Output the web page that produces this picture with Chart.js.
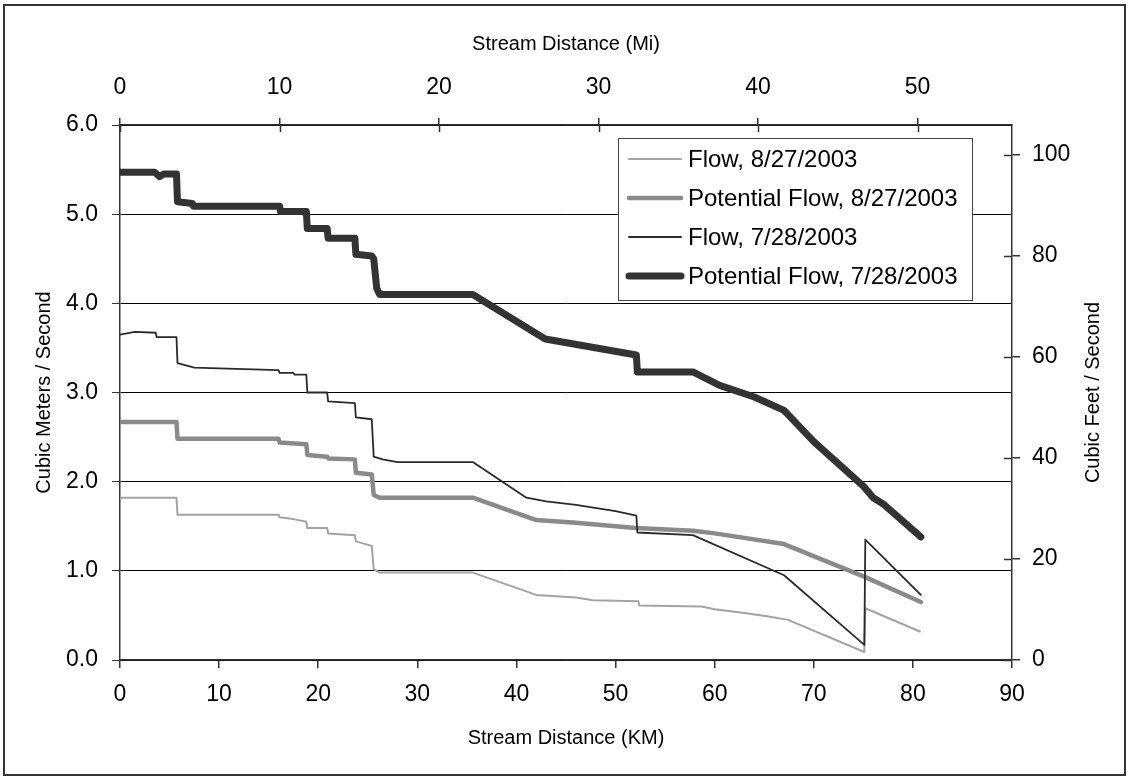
<!DOCTYPE html>
<html>
<head>
<meta charset="utf-8">
<script src="https://cdn.jsdelivr.net/npm/chart.js@4.4.0/dist/chart.umd.min.js"></script>
<style>
  html,body{margin:0;padding:0;background:#fff;}
  #contenedor{width:1130px;height:780px;position:relative;}
</style>
</head>
<body>
<div id="contenedor"><canvas id="myChart"></canvas></div>
<script>
/*------------------------ datos: km y m3/s --------------------------*/
const km_flujo0827 = [0, 5.7, 5.8, 16.0, 16.1, 17.5, 18.8, 18.9, 20.9, 21.0, 23.7, 23.8, 25.4, 25.6, 26.2, 35.6, 42.0, 46.0, 47.7, 52.3, 52.4, 58.7, 60.0, 62.8, 65.3, 67.4, 75.1, 75.2, 80.7];
const q_flujo0827  = [1.82, 1.82, 1.63, 1.63, 1.60, 1.58, 1.55, 1.48, 1.48, 1.42, 1.40, 1.33, 1.28, 1.02, 0.98, 0.98, 0.73, 0.70, 0.67, 0.66, 0.61, 0.60, 0.57, 0.53, 0.49, 0.45, 0.09, 0.58, 0.32];

const km_pot0827 = [0, 5.7, 5.8, 16.0, 16.1, 18.8, 18.9, 20.9, 21.0, 23.7, 23.8, 25.4, 25.6, 26.2, 35.6, 42.0, 46.0, 52.0, 57.8, 60.0, 67.0, 75.2, 80.8];
const q_pot0827  = [2.67, 2.67, 2.48, 2.48, 2.44, 2.42, 2.30, 2.28, 2.26, 2.25, 2.10, 2.08, 1.85, 1.82, 1.82, 1.57, 1.54, 1.48, 1.45, 1.42, 1.30, 0.93, 0.65];

const km_flujo0728 = [0, 1.5, 3.6, 3.7, 5.7, 5.8, 7.5, 10.0, 16.0, 16.1, 17.5, 17.6, 18.8, 18.9, 20.9, 21.0, 23.7, 23.8, 25.4, 25.6, 26.5, 28.0, 35.6, 41.0, 43.0, 46.0, 50.0, 52.1, 52.2, 57.8, 67.0, 75.1, 75.2, 80.8];
const q_flujo0728  = [3.65, 3.68, 3.67, 3.62, 3.62, 3.33, 3.28, 3.27, 3.25, 3.22, 3.22, 3.20, 3.20, 3.00, 3.00, 2.90, 2.88, 2.72, 2.70, 2.28, 2.25, 2.22, 2.22, 1.82, 1.78, 1.74, 1.67, 1.62, 1.43, 1.40, 0.95, 0.17, 1.35, 0.73];

const km_pot0728 = [0, 3.5, 4.0, 4.4, 5.7, 5.8, 7.3, 7.4, 16.1, 16.2, 18.8, 18.9, 20.9, 21.0, 23.7, 23.8, 25.4, 25.6, 25.9, 26.2, 35.6, 42.9, 52.1, 52.2, 57.8, 60.5, 64.0, 67.0, 70.0, 75.0, 76.0, 77.0, 80.8];
const q_pot0728  = [5.47, 5.47, 5.42, 5.45, 5.45, 5.14, 5.12, 5.09, 5.09, 5.03, 5.03, 4.84, 4.84, 4.73, 4.73, 4.55, 4.53, 4.50, 4.17, 4.10, 4.10, 3.60, 3.42, 3.23, 3.23, 3.08, 2.95, 2.80, 2.45, 1.95, 1.82, 1.75, 1.38];

const etiquetas = ['Flow, 8/27/2003', 'Potential Flow, 8/27/2003', 'Flow, 7/28/2003', 'Potential Flow, 7/28/2003'];

// marcas de los ejes secundarios
const marcas_mi  = [0, 10, 20, 30, 40, 50];
const marcas_cfs = [0, 20, 40, 60, 80, 100];

const KM_MAX = 90;
const MI_MAX = KM_MAX / 1.609344;
const CFS_MAX = 105.94;

const fuente = '"Liberation Sans", Arial, sans-serif';

let puntos = (xs, ys) => xs.map((x, i) => ({x: x, y: ys[i]}));

/*------------------------ leyenda dentro del area --------------------------*/
const leyenda = {
   id: 'leyenda',
   afterDraw(chart){
      const ctx = chart.ctx;
      ctx.save();
      ctx.fillStyle = '#fff';
      ctx.fillRect(618, 138, 354, 162);
      ctx.strokeStyle = '#444';
      ctx.lineWidth = 1;
      ctx.strokeRect(618.5, 138.5, 354, 162);
      ctx.font = '24px ' + fuente;
      ctx.textBaseline = 'middle';
      chart.data.datasets.forEach((ds, i) => {
         let y = 159 + i * 39;
         ctx.strokeStyle = ds.borderColor;
         ctx.lineWidth = ds.borderWidth;
         ctx.lineCap = 'round';
         ctx.beginPath();
         ctx.moveTo(629, y);
         ctx.lineTo(681, y);
         ctx.stroke();
         ctx.fillStyle = '#000';
         ctx.fillText(ds.label, 688, y + 1);
      });
      ctx.restore();
   }
};

/*------------------------ marcas que cruzan el eje y titulo derecho --------------------------*/
const marcas = {
   id: 'marcas',
   afterDraw(chart){
      const ctx = chart.ctx, a = chart.chartArea;
      const arriba = chart.scales.x2, derecha = chart.scales.y2;
      ctx.save();
      ctx.strokeStyle = '#333';
      ctx.lineWidth = 1.5;
      arriba.ticks.forEach(t => {
         let x = Math.round(arriba.getPixelForValue(t.value)) + 0.5;
         ctx.beginPath(); ctx.moveTo(x, a.top); ctx.lineTo(x, a.top + 7); ctx.stroke();
      });
      derecha.ticks.forEach(t => {
         let y = Math.round(derecha.getPixelForValue(t.value)) + 0.5;
         ctx.beginPath(); ctx.moveTo(a.right - 8, y); ctx.lineTo(a.right, y); ctx.stroke();
      });
      // el titulo del eje derecho se lee de abajo hacia arriba
      ctx.translate(1093, (a.top + a.bottom) / 2);
      ctx.rotate(-Math.PI / 2);
      ctx.fillStyle = '#000';
      ctx.font = '20px ' + fuente;
      ctx.textAlign = 'center';
      ctx.textBaseline = 'middle';
      ctx.fillText('Cubic Feet / Second', 0, 0);
      ctx.restore();
   }
};

/*------------------------ fondo y marco exterior --------------------------*/
const marco = {
   id: 'marco',
   beforeDraw(chart){
      const ctx = chart.ctx;
      ctx.save();
      ctx.fillStyle = '#fff';
      ctx.fillRect(0, 0, chart.width, chart.height);
      ctx.strokeStyle = '#333';
      ctx.lineWidth = 2;
      ctx.strokeRect(4, 5, 1121, 770);
      ctx.restore();
   }
};

let fijarMarcas = lista => (scale) => {
   scale.ticks = lista.map(v => ({value: v}));
};

let miCanvas = document.getElementById('myChart').getContext('2d');
var chart = new Chart(miCanvas, {
   type: 'scatter',
   data: {
      datasets: [{
         label: etiquetas[0],
         data: puntos(km_flujo0827, q_flujo0827),
         borderColor: '#a3a3a3',
         borderWidth: 2,
         order: 4
      },{
         label: etiquetas[1],
         data: puntos(km_pot0827, q_pot0827),
         borderColor: '#8a8a8a',
         borderWidth: 4.5,
         order: 3
      },{
         label: etiquetas[2],
         data: puntos(km_flujo0728, q_flujo0728),
         borderColor: '#2a2a2a',
         borderWidth: 1.8,
         order: 2
      },{
         label: etiquetas[3],
         data: puntos(km_pot0728, q_pot0728),
         borderColor: '#333333',
         borderWidth: 7,
         order: 1
      }]
   },
   options: {
      responsive: true,
      maintainAspectRatio: false,
      animation: false,
      devicePixelRatio: 1,
      layout: {padding: 0},
      showLine: true,
      elements: {
         point: {radius: 0, hoverRadius: 0},
         line: {tension: 0, borderJoinStyle: 'round', borderCapStyle: 'round', fill: false}
      },
      plugins: {legend: {display: false}, tooltip: {enabled: false}},
      scales: {
         x: {
            type: 'linear', position: 'bottom', min: 0, max: KM_MAX,
            afterFit: s => { s.height = 120; },
            ticks: {stepSize: 10, padding: 13, color: '#000', font: {family: fuente, size: 23}, maxRotation: 0},
            grid: {drawOnChartArea: false, tickLength: 8, color: '#333', lineWidth: 1.5},
            border: {color: '#333', width: 1.5},
            title: {display: true, text: 'Stream Distance (KM)', color: '#000', font: {family: fuente, size: 20}, padding: {top: 0, bottom: 30}}
         },
         x2: {
            type: 'linear', position: 'top', min: 0, max: MI_MAX,
            afterFit: s => { s.height = 125; },
            afterBuildTicks: fijarMarcas(marcas_mi),
            ticks: {padding: 17, color: '#000', font: {family: fuente, size: 23}, maxRotation: 0},
            grid: {drawOnChartArea: false, tickLength: 7, color: '#333', lineWidth: 1.5},
            border: {color: '#333', width: 1.5},
            title: {display: true, text: 'Stream Distance (Mi)', color: '#000', font: {family: fuente, size: 20}, padding: {top: 32, bottom: 0}}
         },
         y: {
            type: 'linear', position: 'left', min: 0, max: 6,
            afterFit: s => { s.width = 120; },
            ticks: {stepSize: 1, padding: 14, color: '#000', font: {family: fuente, size: 23}, callback: v => v.toFixed(1)},
            grid: {color: '#000', lineWidth: 1, tickLength: 8, tickColor: '#333'},
            border: {color: '#333', width: 1.5},
            title: {display: true, text: 'Cubic Meters / Second', color: '#000', font: {family: fuente, size: 20}, padding: {top: 32, bottom: 0}}
         },
         y2: {
            type: 'linear', position: 'right', min: 0, max: CFS_MAX,
            afterFit: s => { s.width = 118; },
            afterBuildTicks: fijarMarcas(marcas_cfs),
            ticks: {padding: 12, color: '#000', font: {family: fuente, size: 23}},
            grid: {drawOnChartArea: false, tickLength: 8, color: '#333', lineWidth: 1.5},
            border: {color: '#333', width: 1.5},
            title: {display: false}
         }
      }
   },
   plugins: [marco, marcas, leyenda]
});
</script>
</body>
</html>
